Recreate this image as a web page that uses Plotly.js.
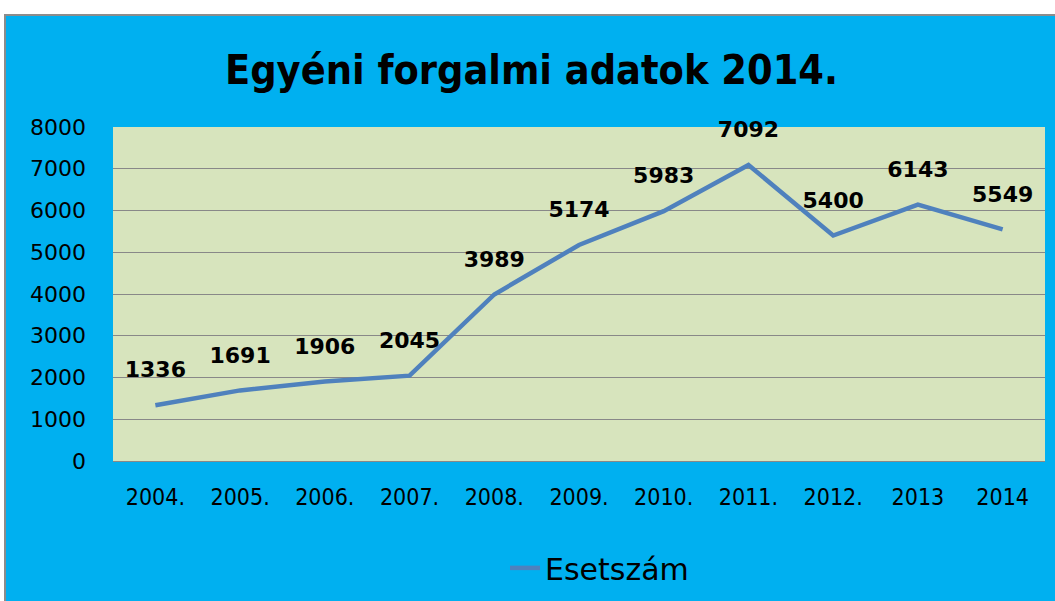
<!DOCTYPE html>
<html>
<head>
<meta charset="utf-8">
<script src="https://cdn.plot.ly/plotly-3.0.1.min.js"></script>
<style>
  html, body { margin: 0; padding: 0; background: #ffffff; width: 1055px; height: 601px; overflow: hidden; }
  #frame { position: absolute; left: 4px; top: 14px; width: 1051px; height: 587px;
           border-top: 2px solid #8c8c8c; border-left: 2px solid #8c8c8c; background: #00B0F0; }
  #chart { width: 1051px; height: 587px; }
</style>
</head>
<body>
<div id="frame"><div id="chart"></div></div>
<script>
const categories = ["2004.", "2005.", "2006.", "2007.", "2008.", "2009.", "2010.", "2011.", "2012.", "2013", "2014"];
const values = [1336, 1691, 1906, 2045, 3989, 5174, 5983, 7092, 5400, 6143, 5549];
const seriesName = "Esetszám";
const chartTitle = "Egyéni forgalmi adatok 2014.";
const yTicks = [0, 1000, 2000, 3000, 4000, 5000, 6000, 7000, 8000];

const NARROW = "'DejaVu Sans Condensed', 'Liberation Sans Narrow', sans-serif";
const WIDE = "'DejaVu Sans', Verdana, sans-serif";

const lineTrace = {
  x: categories,
  y: values,
  type: "scatter",
  mode: "lines",
  name: seriesName,
  line: { color: "#4F81BD", width: 4.5 },
  hoverinfo: "x+y"
};

const labelTrace = {
  x: categories,
  y: values,
  type: "scatter",
  mode: "markers+text",
  text: values.map(String),
  textposition: "top center",
  textfont: { family: WIDE, size: 22, color: "#000000", weight: "bold" },
  marker: { size: 34, opacity: 0, color: "#4F81BD" },
  cliponaxis: false,
  showlegend: false,
  hoverinfo: "skip"
};

const layout = {
  width: 1051, height: 587,
  paper_bgcolor: "#00B0F0",
  plot_bgcolor: "#D7E4BD",
  margin: { l: 107, r: 12, t: 111, b: 142, autoexpand: false },
  title: {
    text: "<b>" + chartTitle + "</b>",
    font: { family: NARROW, size: 41, color: "#000000" },
    x: 0.5, xanchor: "center", y: 0.908, yanchor: "middle"
  },
  showlegend: true,
  legend: {
    orientation: "h", x: 0.522, xanchor: "center", y: -0.32, yanchor: "middle",
    font: { family: WIDE, size: 30, color: "#000000" },
    bgcolor: "rgba(0,0,0,0)"
  },
  xaxis: {
    type: "category",
    range: [-0.5, categories.length - 0.5],
    showgrid: false, zeroline: false,
    showline: false,
    ticks: "", ticklabelstandoff: 20,
    tickfont: { family: NARROW, size: 23, color: "#000000" },
    fixedrange: true
  },
  yaxis: {
    range: [0, 8000],
    tickvals: yTicks,
    ticktext: yTicks.map(String),
    showgrid: true, gridcolor: "#888888", gridwidth: 1,
    zeroline: true, zerolinecolor: "#888888", zerolinewidth: 1,
    showline: false, ticks: "", ticklabelstandoff: 26,
    tickfont: { family: WIDE, size: 22, color: "#000000" },
    fixedrange: true
  }
};

Plotly.newPlot("chart", [lineTrace, labelTrace], layout, { displayModeBar: false, staticPlot: true });
</script>
</body>
</html>
